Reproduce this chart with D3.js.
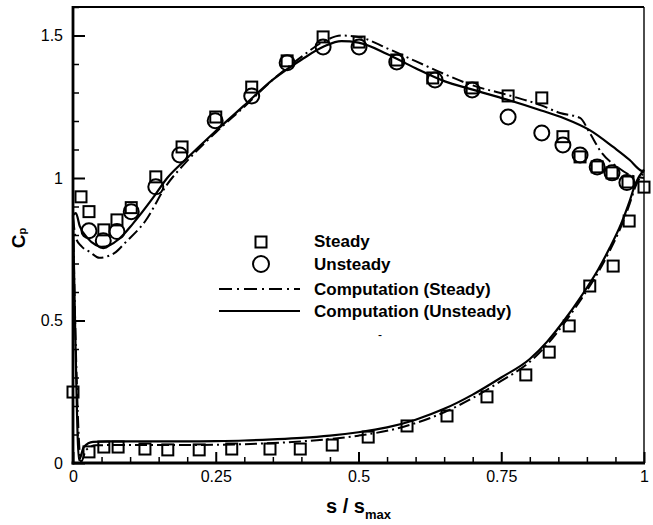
<!DOCTYPE html>
<html>
<head>
<meta charset="utf-8">
<script src="https://cdn.jsdelivr.net/npm/d3@7"></script>
<style>
  html, body { margin: 0; padding: 0; background: #fff; }
  svg { display: block; font-family: "Liberation Sans", Arial, sans-serif; }
</style>
</head>
<body>
<svg id="chart" width="653" height="525"></svg>
<script>
// Measured pressure coefficient, steady inflow (upper and lower surface)
const steadyUpperS  = [0.014, 0.028, 0.054, 0.077, 0.102, 0.145, 0.191, 0.250, 0.313, 0.375, 0.438, 0.501, 0.567, 0.630, 0.699, 0.762, 0.821, 0.858, 0.888, 0.918, 0.944, 0.972, 1.0];
const steadyUpperCp = [0.934, 0.882, 0.818, 0.853, 0.896, 1.004, 1.109, 1.214, 1.319, 1.411, 1.495, 1.477, 1.414, 1.351, 1.316, 1.288, 1.281, 1.145, 1.074, 1.039, 1.018, 0.986, 0.968];
const steadyLowerS  = [0.0, 0.028, 0.054, 0.079, 0.126, 0.166, 0.221, 0.278, 0.345, 0.398, 0.454, 0.517, 0.585, 0.655, 0.725, 0.793, 0.834, 0.869, 0.905, 0.946, 0.974];
const steadyLowerCp = [0.249, 0.039, 0.056, 0.056, 0.049, 0.046, 0.046, 0.049, 0.049, 0.049, 0.063, 0.091, 0.130, 0.165, 0.232, 0.309, 0.389, 0.481, 0.621, 0.691, 0.849];

// Measured pressure coefficient, unsteady inflow (time-averaged)
const unsteadyS  = [0.028, 0.053, 0.077, 0.102, 0.145, 0.187, 0.249, 0.313, 0.375, 0.438, 0.501, 0.567, 0.634, 0.699, 0.762, 0.821, 0.858, 0.888, 0.918, 0.944, 0.970];
const unsteadyCp = [0.815, 0.780, 0.812, 0.882, 0.969, 1.081, 1.201, 1.288, 1.404, 1.460, 1.460, 1.407, 1.344, 1.309, 1.214, 1.158, 1.116, 1.081, 1.039, 1.018, 0.984];

// Computation, unsteady: suction side and pressure side
const compUnsUpperS  = [0, 0.005, 0.012, 0.025, 0.04, 0.05, 0.065, 0.08, 0.105, 0.14, 0.165, 0.2, 0.25, 0.3, 0.35, 0.4, 0.44, 0.47, 0.5, 0.55, 0.6, 0.65, 0.7, 0.76, 0.82, 0.86, 0.905, 0.946, 0.975, 0.993, 1.0];
const compUnsUpperCp = [0.87, 0.877, 0.83, 0.79, 0.765, 0.758, 0.765, 0.785, 0.84, 0.93, 1.0, 1.07, 1.165, 1.255, 1.345, 1.415, 1.462, 1.48, 1.475, 1.435, 1.385, 1.34, 1.31, 1.275, 1.237, 1.21, 1.168, 1.109, 1.063, 1.028, 1.02];
const compUnsLowerS  = [0, 0.004, 0.0105, 0.019, 0.035, 0.06, 0.1, 0.15, 0.2, 0.25, 0.3, 0.35, 0.4, 0.45, 0.5, 0.55, 0.6, 0.65, 0.7, 0.75, 0.8, 0.83, 0.86, 0.89, 0.92, 0.94, 0.96, 0.975, 0.985, 1.0];
const compUnsLowerCp = [0.87, 0.45, 0.01, 0.056, 0.074, 0.076, 0.076, 0.076, 0.076, 0.077, 0.079, 0.083, 0.088, 0.096, 0.108, 0.125, 0.152, 0.19, 0.24, 0.3, 0.365, 0.425, 0.5, 0.585, 0.68, 0.755, 0.84, 0.92, 0.98, 1.03];

// Computation, steady: suction side and pressure side
const compStdUpperS  = [0, 0.005, 0.015, 0.03, 0.046, 0.06, 0.075, 0.09, 0.127, 0.164, 0.2, 0.25, 0.3, 0.35, 0.4, 0.44, 0.47, 0.5, 0.55, 0.6, 0.65, 0.7, 0.76, 0.82, 0.853, 0.888, 0.905, 0.926, 0.953, 0.975, 1.0];
const compStdUpperCp = [0.86, 0.79, 0.76, 0.74, 0.72, 0.725, 0.74, 0.77, 0.85, 0.975, 1.06, 1.16, 1.25, 1.345, 1.425, 1.48, 1.5, 1.495, 1.455, 1.41, 1.365, 1.325, 1.292, 1.255, 1.228, 1.211, 1.158, 1.088, 1.039, 1.011, 1.0];
const compStdLowerS  = [0, 0.005, 0.014, 0.023, 0.04, 0.07, 0.1, 0.15, 0.2, 0.25, 0.3, 0.35, 0.4, 0.45, 0.5, 0.55, 0.6, 0.65, 0.7, 0.75, 0.8, 0.83, 0.86, 0.89, 0.92, 0.94, 0.96, 0.975, 0.985, 1.0];
const compStdLowerCp = [0.86, 0.4, 0.003, 0.046, 0.062, 0.063, 0.063, 0.063, 0.063, 0.064, 0.066, 0.07, 0.076, 0.084, 0.096, 0.113, 0.14, 0.178, 0.228, 0.288, 0.355, 0.415, 0.49, 0.575, 0.67, 0.745, 0.83, 0.91, 0.97, 1.02];

// Axis ticks
const xMajorTicks = [0, 0.25, 0.5, 0.75, 1];
const xTickLabels = ["0", "0.25", "0.5", "0.75", "1"];
const xMinorTicks = [0.05, 0.1, 0.15, 0.2, 0.3, 0.35, 0.4, 0.45, 0.55, 0.6, 0.65, 0.7, 0.8, 0.85, 0.9, 0.95];
const yMajorTicks = [0, 0.5, 1, 1.5];
const yTickLabels = ["0", "0.5", "1", "1.5"];
const yMinorTicks = [0.1, 0.2, 0.3, 0.4, 0.6, 0.7, 0.8, 0.9, 1.1, 1.2, 1.3, 1.4, 1.6];

const legendLabels = ["Steady", "Unsteady", "Computation (Steady)", "Computation (Unsteady)"];

const svg = d3.select("#chart");
const x = d3.scaleLinear().domain([0, 1]).range([73, 644]);
const y = d3.scaleLinear().domain([0, 1.6]).range([463, 7]);

const zip = (a, b) => a.map((v, i) => [v, b[i]]);

// Computed curves
const line = d3.line().x(d => x(d[0])).y(d => y(d[1])).curve(d3.curveMonotoneX);
const dashDot = "12,4,2,4";
const curves = svg.append("g").attr("fill", "none").attr("stroke", "#000");
curves.append("path").attr("d", line(zip(compStdUpperS, compStdUpperCp)))
  .attr("stroke-width", 2).attr("stroke-dasharray", dashDot);
curves.append("path").attr("d", line(zip(compStdLowerS, compStdLowerCp)))
  .attr("stroke-width", 2).attr("stroke-dasharray", dashDot);
curves.append("path").attr("d", line(zip(compUnsUpperS, compUnsUpperCp)))
  .attr("stroke-width", 2.2);
curves.append("path").attr("d", line(zip(compUnsLowerS, compUnsLowerCp)))
  .attr("stroke-width", 2.2);

// Measured points
const sq = 11;
const marks = svg.append("g").attr("fill", "none").attr("stroke", "#000").attr("stroke-width", 2);
marks.selectAll("rect").data(zip(steadyUpperS, steadyUpperCp).concat(zip(steadyLowerS, steadyLowerCp)))
  .join("rect")
  .attr("x", d => x(d[0]) - sq / 2).attr("y", d => y(d[1]) - sq / 2)
  .attr("width", sq).attr("height", sq);
marks.selectAll("circle").data(zip(unsteadyS, unsteadyCp))
  .join("circle")
  .attr("cx", d => x(d[0])).attr("cy", d => y(d[1])).attr("r", 7.5);

// Axes with inward ticks
const axesG = svg.append("g");
const xAxis = axesG.append("g").attr("transform", "translate(0,463)")
  .call(d3.axisBottom(x).tickValues(xMajorTicks).tickSize(-11).tickPadding(8)
    .tickFormat((d, i) => xTickLabels[i]));
const xMinor = axesG.append("g").attr("transform", "translate(0,463)")
  .call(d3.axisBottom(x).tickValues(xMinorTicks).tickSize(-6).tickFormat(""));
const yAxis = axesG.append("g").attr("transform", "translate(73,0)")
  .call(d3.axisLeft(y).tickValues(yMajorTicks).tickSize(-12).tickPadding(10)
    .tickFormat((d, i) => yTickLabels[i]));
const yMinor = axesG.append("g").attr("transform", "translate(73,0)")
  .call(d3.axisLeft(y).tickValues(yMinorTicks).tickSize(-6).tickFormat(""));

[xAxis, xMinor, yAxis, yMinor].forEach(g => {
  g.select(".domain").remove();
  g.selectAll(".tick line").attr("stroke", "#000").attr("stroke-width", 1.5);
  g.selectAll(".tick text").attr("font-size", 16).attr("fill", "#000")
    .attr("font-family", "'Liberation Sans', Arial, sans-serif");
});
xAxis.selectAll(".tick line").attr("stroke-width", 2);
yAxis.selectAll(".tick line").attr("stroke-width", 2);

// Frame
const frame = svg.append("g").attr("stroke", "#000").attr("fill", "none");
frame.append("line").attr("x1", 73).attr("x2", 644).attr("y1", 7).attr("y2", 7).attr("stroke-width", 2.2);
frame.append("line").attr("x1", 644).attr("x2", 644).attr("y1", 7).attr("y2", 463).attr("stroke-width", 1.4);
frame.append("line").attr("x1", 73).attr("x2", 73).attr("y1", 6).attr("y2", 464.5).attr("stroke-width", 2.8);
frame.append("line").attr("x1", 71.6).attr("x2", 645).attr("y1", 463).attr("y2", 463).attr("stroke-width", 2.8);

// Axis titles
const xt = svg.append("text").attr("x", x(0.5)).attr("y", 513).attr("text-anchor", "middle")
  .attr("font-size", 20).attr("font-weight", "bold");
xt.append("tspan").text("s / s");
xt.append("tspan").attr("font-size", 13).attr("dy", 6).text("max");

const yt = svg.append("text").attr("transform", "translate(25,238) rotate(-90)")
  .attr("text-anchor", "middle").attr("font-size", 19).attr("font-weight", "bold");
yt.append("tspan").text("C");
yt.append("tspan").attr("font-size", 11).attr("dy", 1).text("p");

// Legend
const lg = svg.append("g");
lg.append("rect").attr("x", 261 - sq / 2).attr("y", 242 - sq / 2).attr("width", sq).attr("height", sq)
  .attr("fill", "none").attr("stroke", "#000").attr("stroke-width", 2);
lg.append("circle").attr("cx", 261).attr("cy", 264).attr("r", 8)
  .attr("fill", "none").attr("stroke", "#000").attr("stroke-width", 2);
lg.append("line").attr("x1", 219).attr("x2", 300).attr("y1", 289).attr("y2", 289)
  .attr("stroke", "#000").attr("stroke-width", 2).attr("stroke-dasharray", "13,5,2,5");
lg.append("line").attr("x1", 219).attr("x2", 300).attr("y1", 311).attr("y2", 311)
  .attr("stroke", "#000").attr("stroke-width", 2.2);
const legendBaselines = [247, 270, 295, 317];
lg.selectAll("text").data(legendLabels).join("text")
  .attr("x", 314).attr("y", (d, i) => legendBaselines[i])
  .attr("font-size", 17).attr("font-weight", "bold").text(d => d);

// Small stray mark below the legend
svg.append("text").attr("x", 380).attr("y", 339).attr("text-anchor", "middle")
  .attr("font-size", 12).text("-");
</script>
</body>
</html>
